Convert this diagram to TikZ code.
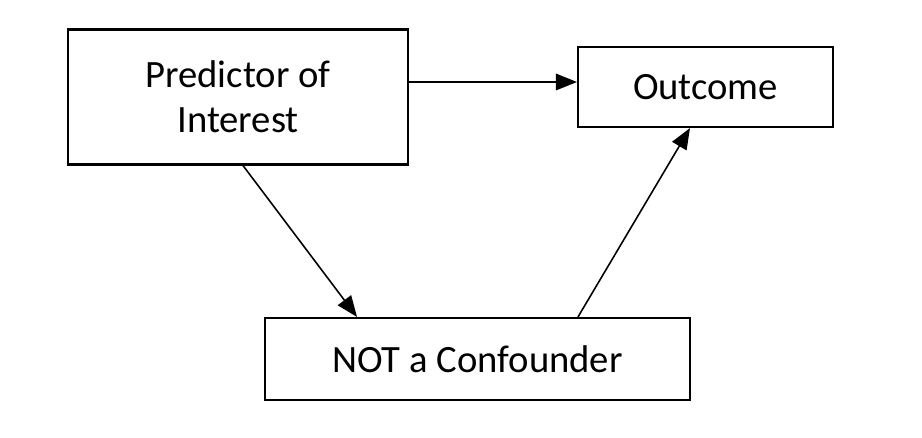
\documentclass[tikz,border=0pt]{standalone}
\usepackage{fontspec}
\setmainfont{Carlito}
\usetikzlibrary{arrows.meta,calc}
\tikzset{
    block/.style = {draw, rectangle, line width=1.2pt,
        inner sep=0pt, align=center,
        font=\fontsize{22}{25.6}\selectfont},
    arrow/.style={draw, line width=0.9pt, -{Triangle[length=0.42cm,width=0.33cm]}}
}

\begin{document}
\begin{tikzpicture}[x=0.02cm, y=-0.02cm]
        \useasboundingbox (0,0) rectangle (922,438);
        \node [block, minimum width=6.8cm, minimum height=2.7cm] (pred) at (238,97) {Predictor of\\Interest};
        \node [block, minimum width=5.1cm, minimum height=1.6cm] (outc) at (705.5,87) {Outcome};
        \node [block, minimum width=8.5cm, minimum height=1.64cm] (notc) at (477.5,359) {NOT a Confounder};
        \draw [arrow] ([yshift=0.1cm]outc.west -| pred.east) -- ([yshift=0.1cm]outc.west);
        \draw [arrow] ([xshift=0.1cm]pred.south) -- ([xshift=-2.41cm]notc.north);
        \draw [arrow] ([xshift=2.01cm]notc.north) -- ([xshift=-0.31cm]outc.south);
\end{tikzpicture}
\end{document}
